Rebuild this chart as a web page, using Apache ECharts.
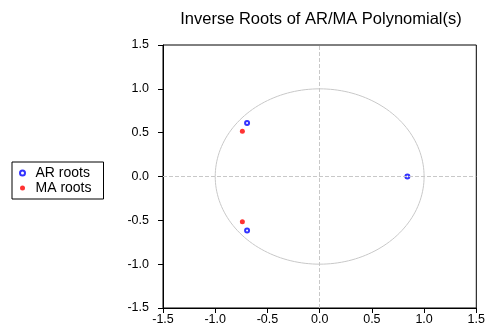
<!DOCTYPE html>
<html><head><meta charset="utf-8">
<script src="https://cdn.jsdelivr.net/npm/echarts@6/dist/echarts.min.js"></script>
<style>html,body{margin:0;padding:0;background:#fff}#c{width:488px;height:326px}</style>
</head><body><div id="c"></div>
<script>
const titleText = "Inverse Roots of AR/MA Polynomial(s)";
const arRootsRe = [0.84, -0.695, -0.695];
const arRootsIm = [0.0, 0.61, -0.615];
const maRootsRe = [-0.74, -0.74];
const maRootsIm = [0.515, -0.515];
const tickValues = [-1.5, -1.0, -0.5, 0.0, 0.5, 1.0, 1.5];

// unit circle reference curve (geometry, not data)
const circle = [];
for (let i = 0; i <= 360; i++) { const a = i * Math.PI / 180; circle.push([Math.cos(a), Math.sin(a)]); }

const ar = arRootsRe.map((v, i) => [v, arRootsIm[i]]);
const ma = maRootsRe.map((v, i) => [v, maRootsIm[i]]);

const font = 'Liberation Sans, Arial, sans-serif';
const axisCommon = {
  type: 'value', min: tickValues[0], max: tickValues[tickValues.length - 1], interval: 0.5,
  axisLine: { show: true, onZero: false, lineStyle: { color: '#000', width: 1 } },
  axisTick: { show: true, inside: false, length: 5, lineStyle: { color: '#000' } },
  splitLine: { show: false },
  axisLabel: { color: '#000', fontFamily: font, fontSize: 12.5, formatter: v => v.toFixed(1) }
};
const chart = echarts.init(document.getElementById('c'));
chart.setOption({
  animation: false,
  title: { text: titleText, left: 321, textAlign: 'center', top: 11, padding: 0, textStyle: { fontFamily: font, fontSize: 16.5, fontWeight: 'normal', color: '#000' } },
  grid: { left: 163, right: 8, top: 45, bottom: 18, show: true, borderColor: '#000', borderWidth: 1 },
  xAxis: Object.assign({}, axisCommon, { axisLabel: Object.assign({}, axisCommon.axisLabel, { margin: 5, showMaxLabel: true }) }),
  yAxis: Object.assign({}, axisCommon, { axisLabel: Object.assign({}, axisCommon.axisLabel, { margin: 14 }) }),
  legend: {
    orient: 'vertical', left: 12, top: 162,
    borderColor: '#000', borderWidth: 1, padding: [4, 12, 4, 7],
    itemWidth: 16, itemHeight: 5, itemGap: 1,
    textStyle: { fontFamily: font, fontSize: 14, color: '#000' },
    data: [{ name: 'AR roots', icon: 'emptyCircle' }, { name: 'MA roots', icon: 'circle' }]
  },
  series: [
    { type: 'line', data: circle, showSymbol: false, silent: true, lineStyle: { color: '#c8c8c8', width: 1 }, z: 1,
      markLine: { silent: true, symbol: 'none', label: { show: false }, lineStyle: { color: '#c8c8c8', type: [4, 2], width: 1 },
        data: [{ xAxis: 0 }, { yAxis: 0 }] } },
    { name: 'AR roots', type: 'scatter', data: ar, symbol: 'emptyCircle', symbolSize: 4,
      itemStyle: { color: '#0000ff', borderColor: '#0000ff', borderWidth: 1.1 }, z: 3 },
    { name: 'MA roots', type: 'scatter', data: ma, symbol: 'circle', symbolSize: 5,
      itemStyle: { color: '#ff0000' }, z: 3 }
  ]
});
</script></body></html>
